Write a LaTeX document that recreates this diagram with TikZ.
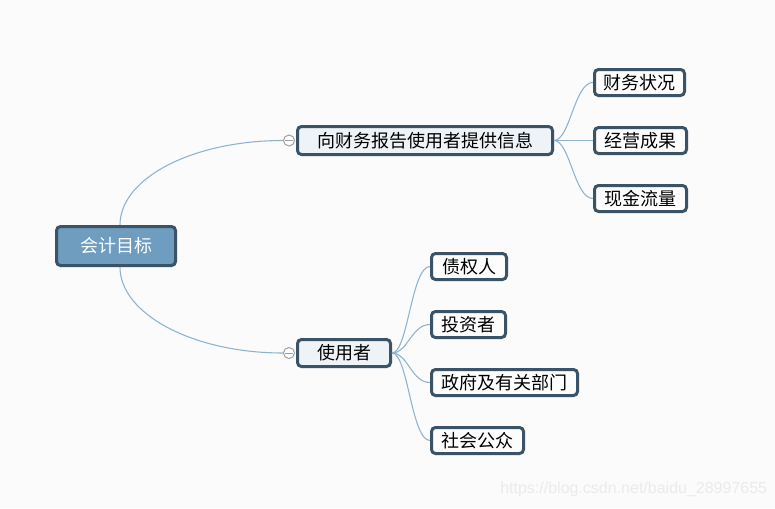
\documentclass[tikz,border=0pt]{standalone}
\usepackage{fontspec}
\setmainfont{Noto Sans CJK SC}
\newfontfamily\wmfont{Liberation Sans}
\definecolor{bgcol}{HTML}{FBFBFB}
\definecolor{bordercol}{HTML}{3B5366}
\definecolor{rootfill}{HTML}{6F9DBF}
\definecolor{midfill}{HTML}{EEF3F7}
\definecolor{leaffill}{HTML}{FDFDFD}
\definecolor{linkcol}{HTML}{8FB3CC}
\definecolor{knobcol}{HTML}{A0A0A0}
\definecolor{wmcol}{HTML}{EBEBEB}
\begin{document}
\begin{tikzpicture}[x=0.75pt,y=-0.75pt,
  box/.style={draw=bordercol, line width=2.25pt, rounded corners=3pt, inner sep=0pt,
    font=\fontsize{13.5pt}{16pt}\selectfont, text=black},
  rootbox/.style={box, fill=rootfill, text=white, minimum width=89.25pt, minimum height=29.25pt},
  midbox/.style={box, fill=midfill, minimum height=21pt},
  leafbox/.style={box, fill=leaffill, minimum height=19.5pt},
  link/.style={draw=linkcol, line width=0.8pt},
  knob/.style={circle, draw=knobcol, fill=white, line width=0.75pt, minimum size=8.25pt, inner sep=0pt}]
\fill[bgcol] (0,0) rectangle (775,508);
\useasboundingbox (0,0) rectangle (775,508);

% nodes
\node[rootbox] (root) at (116,246) {会计目标};
\node[midbox, minimum width=191.25pt] (n1) at (425,140.5) {向财务报告使用者提供信息};
\node[midbox, minimum width=69.75pt, minimum height=20.25pt] (n2) at (344,353) {使用者};

\node[leafbox, minimum width=67.5pt] (c1) at (639.5,82.5) {财务状况};
\node[leafbox, minimum width=69pt] (c2) at (640.5,140.5) {经营成果};
\node[leafbox, minimum width=69pt] (c3) at (640.5,198.5) {现金流量};

\node[leafbox, minimum width=56.25pt] (d1) at (469,266.5) {债权人};
\node[leafbox, minimum width=55.5pt] (d2) at (468.5,324.5) {投资者};
\node[leafbox, minimum width=109.5pt] (d3) at (504.5,382.5) {政府及有关部门};
\node[leafbox, minimum width=69pt] (d4) at (477.5,440.5) {社会公众};

\node[knob] (k1) at (289,140.5) {};
\node[knob] (k2) at (289,353) {};
\foreach \k in {k1,k2}{
  \draw[knobcol, line width=0.75pt] ([xshift=-3pt]\k.center) -- ([xshift=3pt]\k.center);
}

% root connectors
\path[link] ([xshift=3pt]root.north) .. controls (120,178) and (193,140.5) .. (k1.west);
\path[link] ([xshift=3pt]root.south) .. controls (120,314) and (193,353) .. (k2.west);

% first-level children connectors
\foreach \c in {c1,c2,c3}{
  \path[link] (n1.east) .. controls ([xshift=12pt]n1.east) and ([xshift=-14pt]\c.west) .. (\c.west);
}
\foreach \d in {d1,d2,d3,d4}{
  \path[link] (n2.east) .. controls ([xshift=12pt]n2.east) and ([xshift=-14pt]\d.west) .. (\d.west);
}

% watermark
\node[anchor=west, inner sep=0pt, text=wmcol, font=\wmfont\fontsize{12pt}{14pt}\selectfont] (wm) at (500,489) {https://blog.csdn.net/baidu\_28997655};
\end{tikzpicture}
\end{document}
